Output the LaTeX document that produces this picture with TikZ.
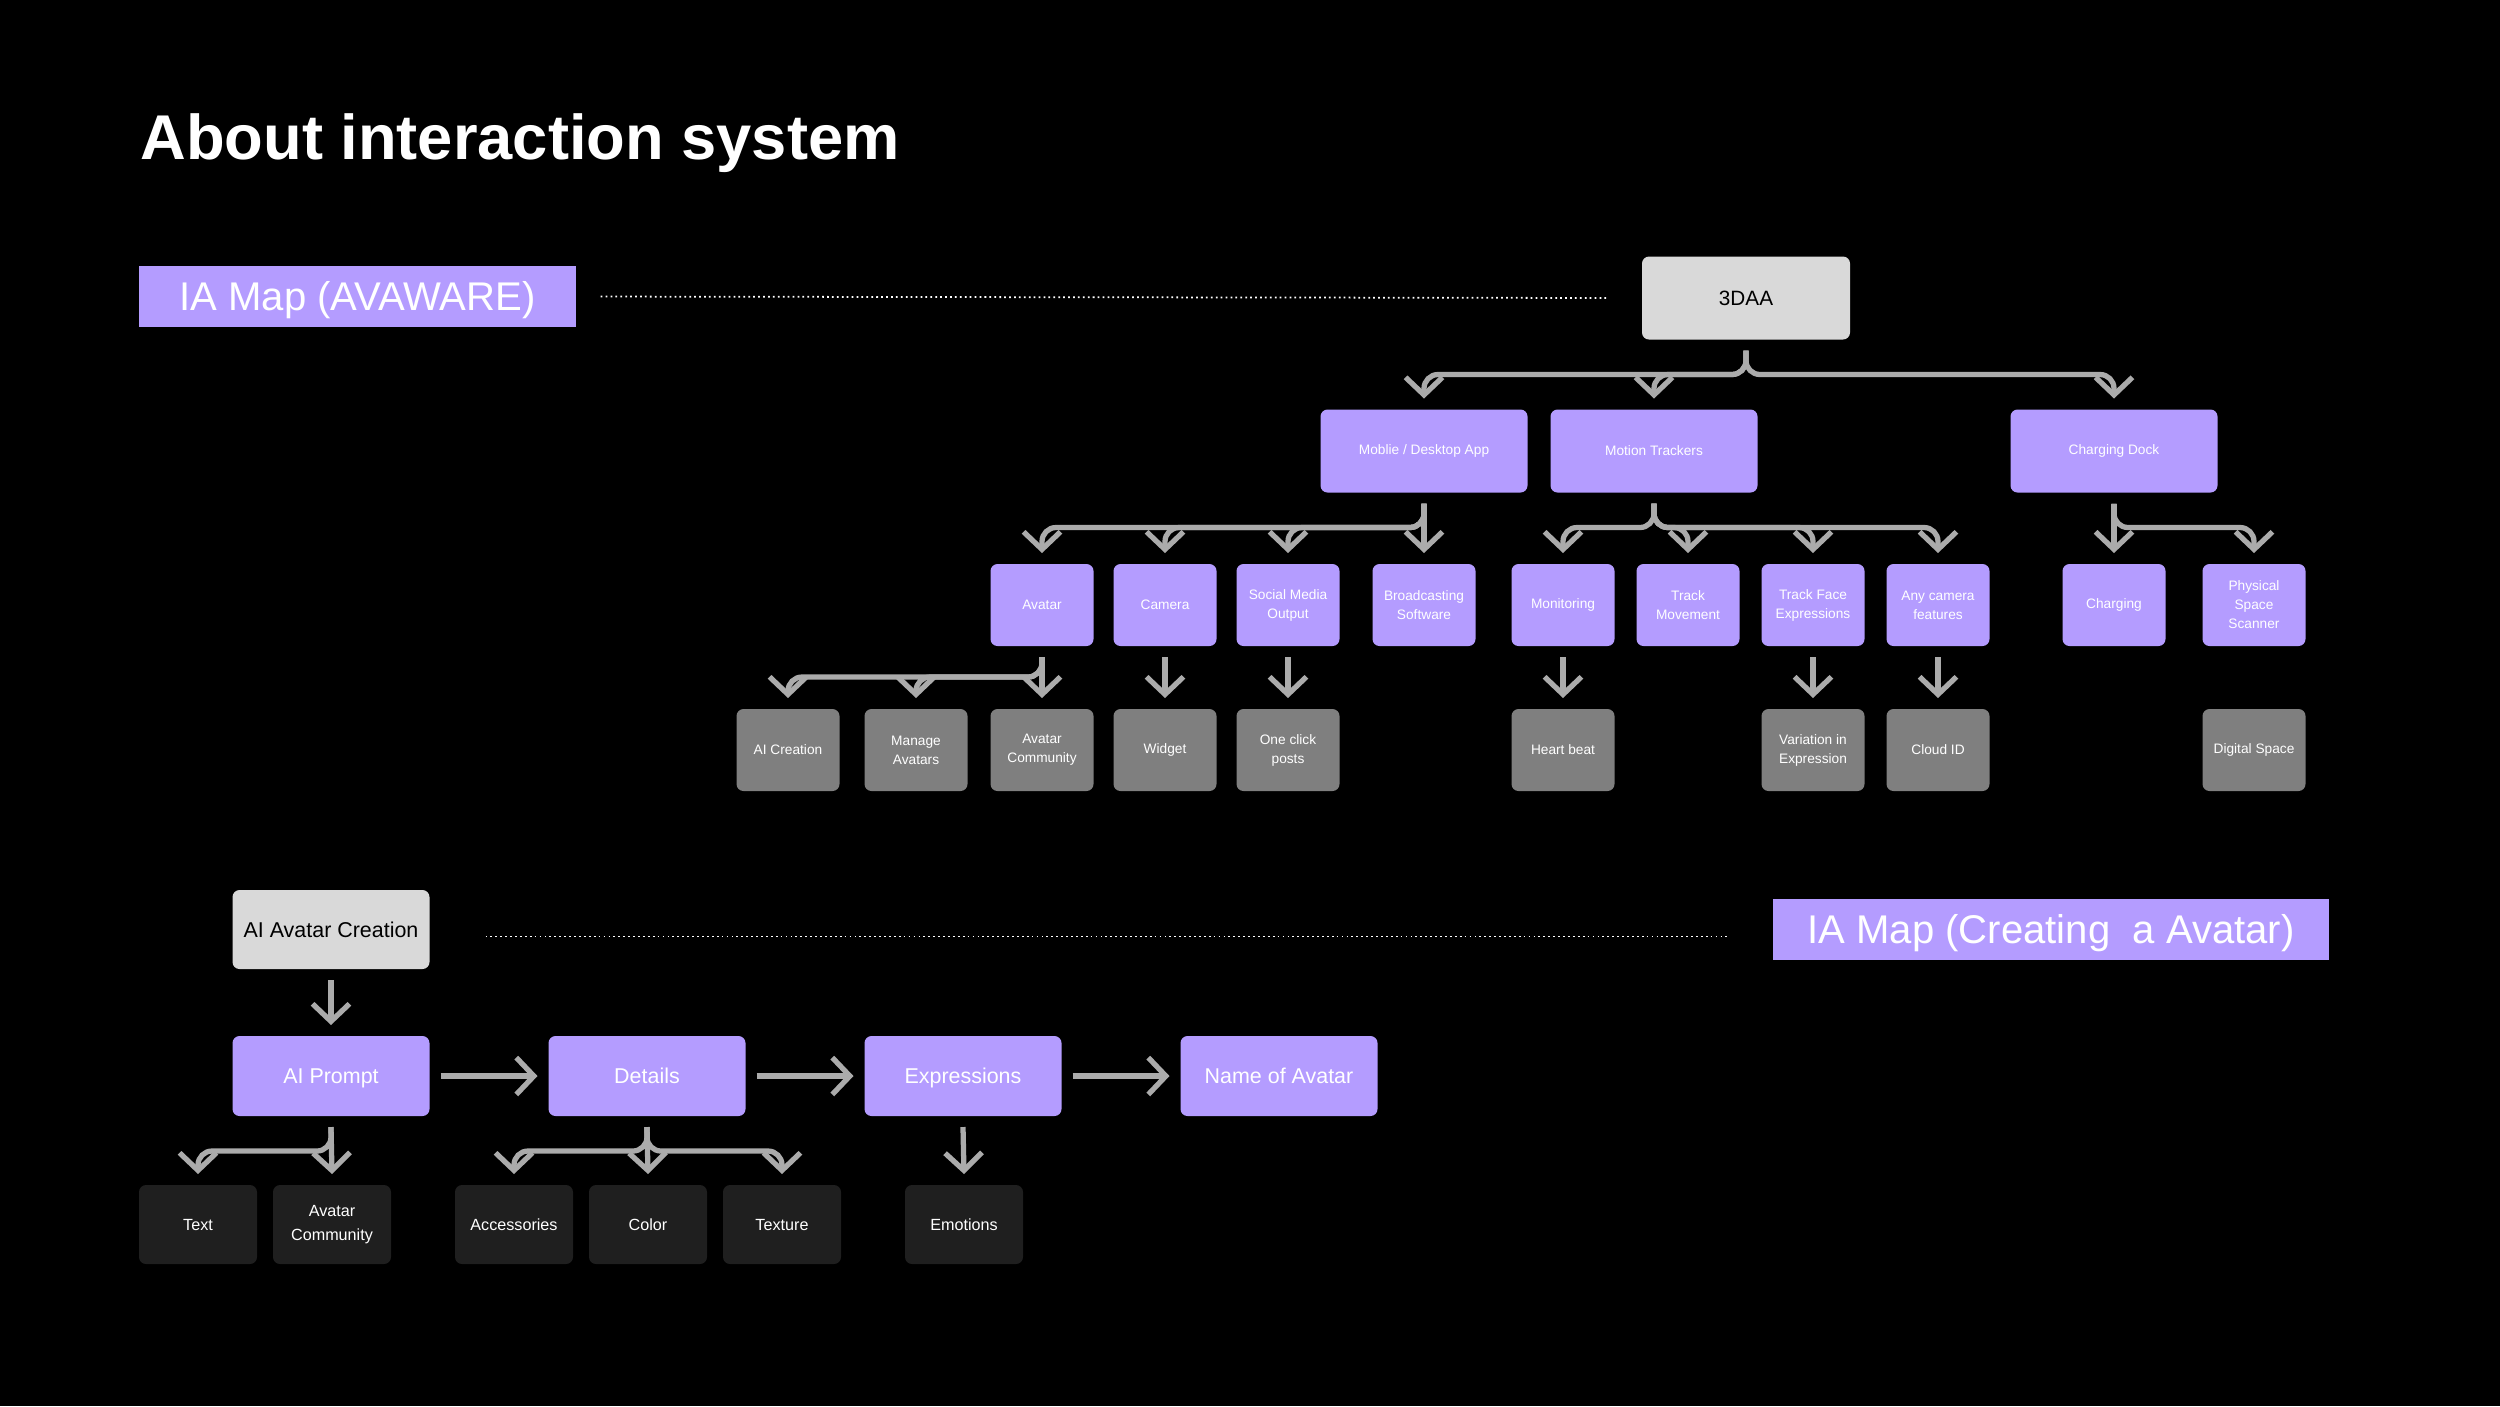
\documentclass[tikz,border=0pt]{standalone}
\usepackage{fontspec}
\setmainfont{Liberation Sans}
\usepackage{tikz}
\usetikzlibrary{arrows.meta}
\definecolor{iapurple}{HTML}{B49CFF}
\definecolor{rootgray}{HTML}{D9D9D9}
\definecolor{leafgray}{HTML}{7F7F7F}
\definecolor{leafdark}{HTML}{1F1F1F}
\definecolor{linkgray}{HTML}{ABABAB}

\begin{document}
\begin{tikzpicture}[x=0.1mm, y=-0.1mm,
  box/.style={rounded corners=0.7mm, align=center, inner sep=0pt, outer sep=1.1mm, text=white, font=\fontsize{3.9}{5.4}\selectfont},
  rootbox/.style={box, fill=rootgray, text=black, text height=4.25pt, text depth=0pt, minimum width=20.8mm, minimum height=8.3mm, font=\fontsize{5.9}{7}\selectfont},
  topbox/.style={box, fill=iapurple, minimum width=20.7mm, minimum height=8.3mm},
  midbox/.style={box, fill=iapurple, minimum width=10.3mm, minimum height=8.2mm},
  leafbox/.style={box, fill=leafgray, minimum width=10.3mm, minimum height=8.2mm},
  startbox/.style={box, fill=rootgray, text=black, text height=4.4pt, text depth=0pt, minimum width=19.7mm, minimum height=7.9mm, font=\fontsize{6.1}{7.5}\selectfont},
  stepbox/.style={box, fill=iapurple, text height=4.4pt, text depth=0pt, minimum width=19.7mm, minimum height=8mm, font=\fontsize{6.1}{7.5}\selectfont},
  optbox/.style={box, fill=leafdark, minimum width=11.8mm, minimum height=7.9mm, font=\fontsize{4.6}{6.8}\selectfont},
  maplabel/.style={fill=iapurple, text=white, inner sep=0pt, text height=8.2pt, text depth=0pt, minimum height=6.1mm, font=\fontsize{11.4}{13}\selectfont},
  link/.style={draw=linkgray, line width=1.5pt, rounded corners=1.4mm, -{Straight Barb[length=5pt, width=10.5pt]}},
  guide/.style={draw=white, line width=0.5pt, dash pattern=on 0.5pt off 0.9pt}]
\fill[black] (0,0) rectangle (2500,1406);
\node[anchor=base west, text=white, font=\fontsize{18}{20}\selectfont\bfseries] (title) at (128,159) {About interaction system};

% IA map (avaware)
\node[maplabel, minimum width=43.7mm] (mapone) at (357.5,296.5) {IA Map (AVAWARE)};
\node[rootbox] (root) at (1746,298) {3DAA};
\draw[guide, shorten <=2.4mm, shorten >=2.4mm] (mapone.east) -- (root.west);

\node[topbox] (app) at (1424,451) {Moblie / Desktop App};
\node[topbox] (motion) at (1654,451) {Motion Trackers};
\node[topbox] (dock) at (2114,451) {Charging Dock};

\node[midbox] (avatar) at (1042,605) {Avatar};
\node[midbox] (camera) at (1165,605) {Camera};
\node[midbox] (social) at (1288,605) {Social Media\\Output};
\node[midbox] (broadcast) at (1424,605) {Broadcasting\\Software};
\node[midbox] (monitor) at (1563,605) {Monitoring};
\node[midbox] (trackmove) at (1688,605) {Track\\Movement};
\node[midbox] (trackface) at (1813,605) {Track Face\\Expressions};
\node[midbox] (anycam) at (1938,605) {Any camera\\features};
\node[midbox] (charging) at (2114,605) {Charging};
\node[midbox] (scanner) at (2254,605) {Physical\\Space\\Scanner};

\node[leafbox] (aicreate) at (788,750) {AI Creation};
\node[leafbox] (manage) at (916,750) {Manage\\Avatars};
\node[leafbox] (avcomm) at (1042,750) {Avatar\\Community};
\node[leafbox] (widget) at (1165,750) {Widget};
\node[leafbox] (oneclick) at (1288,750) {One click\\posts};
\node[leafbox] (heartbeat) at (1563,750) {Heart beat};
\node[leafbox] (variation) at (1813,750) {Variation in\\Expression};
\node[leafbox] (cloudid) at (1938,750) {Cloud ID};
\node[leafbox] (digital) at (2254,750) {Digital Space};

\draw[link] (root.south) -- ++(0,24) -| (app.north); \draw[link] (root.south) -- ++(0,24) -| (motion.north); \draw[link] (root.south) -- ++(0,24) -| (dock.north);
\draw[link] (app.south) -- ++(0,24) -| (avatar.north); \draw[link] (app.south) -- ++(0,24) -| (camera.north); \draw[link] (app.south) -- ++(0,24) -| (social.north);
\draw[link] (app.south) -- (broadcast.north);
\draw[link] (motion.south) -- ++(0,24) -| (monitor.north); \draw[link] (motion.south) -- ++(0,24) -| (trackmove.north);
\draw[link] (motion.south) -- ++(0,24) -| (trackface.north); \draw[link] (motion.south) -- ++(0,24) -| (anycam.north);
\draw[link] (dock.south) -- (charging.north); \draw[link] (dock.south) -- ++(0,24) -| (scanner.north);
\draw[link] (avatar.south) -- ++(0,20) -| (aicreate.north); \draw[link] (avatar.south) -- ++(0,20) -| (manage.north);
\draw[link] (avatar.south) -- (avcomm.north); \draw[link] (camera.south) -- (widget.north); \draw[link] (social.south) -- (oneclick.north);
\draw[link] (monitor.south) -- (heartbeat.north); \draw[link] (trackface.south) -- (variation.north); \draw[link] (anycam.south) -- (cloudid.north);

% IA map (creating a avatar)
\node[startbox] (start) at (331,929.5) {AI Avatar Creation};
\node[maplabel, minimum width=55.6mm] (maptwo) at (2051,929.5) {IA Map (Creating\ \ a Avatar)};
\draw[guide, shorten <=4.5mm, shorten >=4.3mm] ([yshift=-0.7mm]start.east) -- ([yshift=-0.7mm]maptwo.west);

\node[stepbox] (prompt) at (331,1076) {AI Prompt};
\node[stepbox] (details) at (647,1076) {Details};
\node[stepbox] (expressions) at (963,1076) {Expressions};
\node[stepbox] (avname) at (1279,1076) {Name of Avatar};

\node[optbox] (text) at (198,1224.5) {Text};
\node[optbox] (community) at (332,1224.5) {Avatar\\Community};
\node[optbox] (accessories) at (514,1224.5) {Accessories};
\node[optbox] (color) at (648,1224.5) {Color};
\node[optbox] (texture) at (782,1224.5) {Texture};
\node[optbox] (emotions) at (964,1224.5) {Emotions};

\draw[link] (start.south) -- (prompt.north);
\draw[link] (prompt.east) -- (details.west); \draw[link] (details.east) -- (expressions.west); \draw[link] (expressions.east) -- (avname.west);
\draw[link] (prompt.south) -- ++(0,24) -| (text.north); \draw[link] (prompt.south) -- (community.north);
\draw[link] (details.south) -- ++(0,24) -| (accessories.north); \draw[link] (details.south) -- (color.north); \draw[link] (details.south) -- ++(0,24) -| (texture.north);
\draw[link] (expressions.south) -- (emotions.north);
\end{tikzpicture}
\end{document}
